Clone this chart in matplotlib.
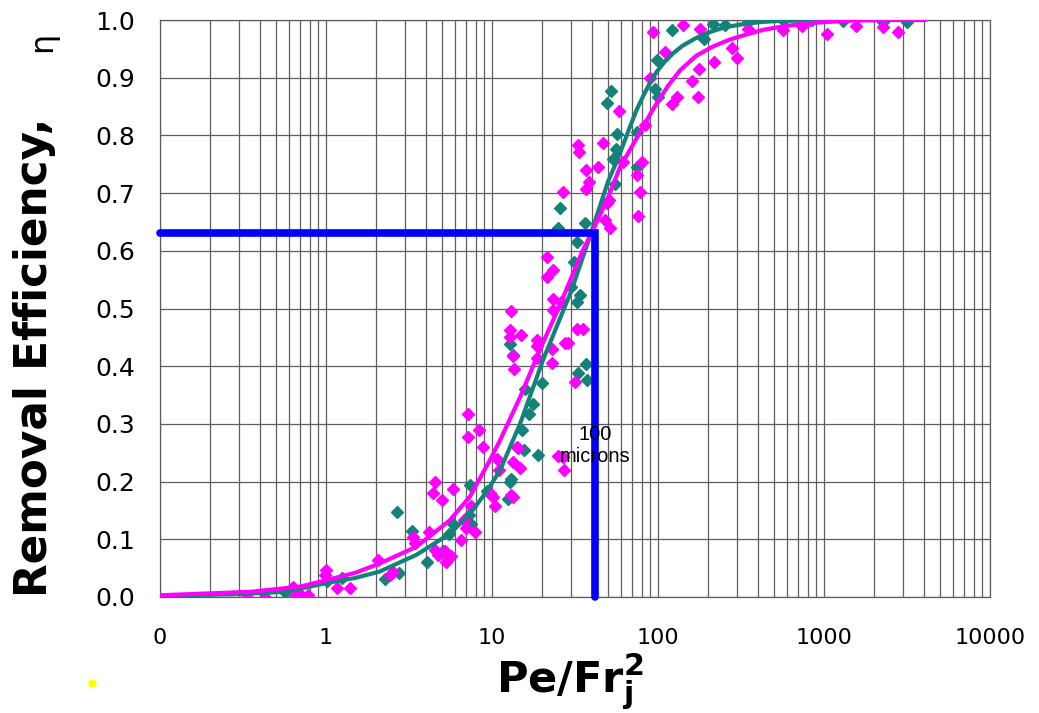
import matplotlib
matplotlib.use("Agg")
import matplotlib.pyplot as plt
from matplotlib.lines import Line2D
from matplotlib.ticker import FixedLocator, LogLocator, NullFormatter

# ---------------- data ----------------
teal_pts_x = [0.57, 1.01, 1.24, 2.27, 2.74, 2.67, 3.28, 4.05, 5.1, 5.5, 5.85, 7.3, 7.36, 7.5, 9.3,
              12.5, 12.8, 13.1, 12.9, 13.4, 15.2, 15.6, 15.8, 16.7, 17.7, 19.0, 19.9, 25.0, 25.7,
              29.9, 31.2, 32.7, 32.7, 33.1, 34.0, 36.3, 36.8, 37.3, 49.2, 52.1, 53.9, 55.0, 55.9,
              56.9, 74.3, 74.3, 96.5, 98, 100.5, 122, 190, 214, 254, 350, 563, 843, 1306, 2276, 3148]
teal_pts_y = [0.009, 0.027, 0.033, 0.031, 0.042, 0.148, 0.115, 0.061, 0.079, 0.11, 0.127, 0.142,
              0.194, 0.127, 0.183, 0.169, 0.2, 0.205, 0.438, 0.419, 0.29, 0.254, 0.36, 0.317, 0.334,
              0.246, 0.371, 0.639, 0.674, 0.538, 0.581, 0.512, 0.616, 0.388, 0.523, 0.649, 0.403,
              0.376, 0.857, 0.877, 0.759, 0.715, 0.776, 0.802, 0.746, 0.806, 0.88, 0.93, 0.866,
              0.983, 0.967, 0.993, 0.991, 0.997, 1.0, 1.0, 0.999, 0.997, 0.997]

mag_pts_x = [0.333, 0.43, 0.635, 0.66, 0.71, 0.78, 0.99, 1.0, 1.16, 1.39, 2.05, 2.43, 2.54, 3.36,
             3.45, 4.2, 4.44, 4.54, 4.54, 4.7, 5.0, 5.2, 5.3, 5.7, 5.85, 6.5, 6.8, 7.0, 7.2, 7.2,
             7.5, 7.9, 8.3, 8.8, 9.7, 10.2, 10.4, 10.7, 11.0, 12.9, 12.9, 13.1, 13.1, 13.4, 13.4,
             13.4, 13.6, 14.1, 14.4, 14.7, 14.9, 18.6, 18.7, 18.6, 21.5, 21.5, 22.9, 22.9, 23.2,
             23.3, 23.3, 25.0, 26.2, 26.6, 26.6, 27.1, 27.4, 28.7, 31.8, 32.3, 33.1, 33.5, 35.2,
             36.8, 36.8, 38.4, 43.4, 46.4, 47.7, 49.2, 51, 51.5, 58.3, 61.9, 74.8, 76, 77.6, 79.6,
             83.2, 89, 93.7, 110, 122, 130, 142, 161, 174, 176, 178, 217, 281, 300, 350, 563, 734,
             818, 1037, 1560, 2276, 2806]
mag_pts_y = [0.0, 0.0, 0.018, 0.003, 0.003, 0.003, 0.038, 0.047, 0.015, 0.015, 0.064, 0.038, 0.044,
             0.104, 0.094, 0.113, 0.18, 0.2, 0.081, 0.073, 0.168, 0.079, 0.061, 0.071, 0.188, 0.099,
             0.133, 0.119, 0.318, 0.278, 0.157, 0.113, 0.289, 0.26, 0.18, 0.174, 0.157, 0.24, 0.22,
             0.462, 0.451, 0.496, 0.177, 0.234, 0.174, 0.418, 0.396, 0.26, 0.259, 0.223, 0.454,
             0.445, 0.435, 0.415, 0.59, 0.554, 0.429, 0.405, 0.497, 0.567, 0.516, 0.244, 0.512,
             0.243, 0.702, 0.22, 0.44, 0.44, 0.373, 0.464, 0.783, 0.772, 0.464, 0.74, 0.707, 0.72,
             0.746, 0.786, 0.653, 0.682, 0.688, 0.639, 0.842, 0.754, 0.731, 0.66, 0.702, 0.754,
             0.818, 0.899, 0.979, 0.944, 0.854, 0.867, 0.991, 0.895, 0.867, 0.915, 0.984, 0.927,
             0.951, 0.935, 0.984, 0.983, 0.99, 1.0, 0.975, 0.99, 0.988, 0.979]

teal_curve_x = [0.1, 0.3, 0.57, 1.0, 1.5, 2.1, 3.5, 5.6, 7.4, 9.3, 11.2, 14.8, 20.3, 30, 38.9, 50,
                57, 67.6, 74.3, 82, 89, 98, 110, 123, 140, 165, 200, 250, 312, 400, 500, 700, 1000,
                2000, 4000]
teal_curve_y = [0.002, 0.005, 0.009, 0.024, 0.033, 0.044, 0.073, 0.11, 0.145, 0.183, 0.22, 0.301,
                0.411, 0.53, 0.625, 0.72, 0.758, 0.814, 0.844, 0.87, 0.89, 0.91, 0.928, 0.942,
                0.955, 0.967, 0.978, 0.987, 0.992, 0.996, 0.998, 0.999, 1.0, 1.0, 1.0]

mag_curve_x = [0.1, 0.35, 0.7, 1.0, 1.5, 2.1, 3.5, 5.57, 7.36, 9.7, 11.2, 14.8, 19.4, 26, 35.1,
               38.9, 50, 59, 74, 89, 98, 115, 136, 170, 214, 270, 342, 430, 543, 680, 859, 1100,
               1503, 2500, 4100]
mag_curve_y = [0.003, 0.009, 0.018, 0.029, 0.042, 0.058, 0.087, 0.133, 0.174, 0.237, 0.272, 0.347,
               0.428, 0.51, 0.60, 0.625, 0.692, 0.745, 0.794, 0.835, 0.855, 0.886, 0.913, 0.938,
               0.954, 0.966, 0.975, 0.983, 0.988, 0.992, 0.995, 0.997, 0.999, 1.0, 1.0]

blue_x = [0.1, 42, 42]
blue_y = [0.63, 0.63, 0.0]

xtick_vals = [0.1, 1, 10, 100, 1000, 10000]
xtick_labels = ["0", "1", "10", "100", "1000", "10000"]
ytick_vals = [0.0, 0.1, 0.2, 0.3, 0.4, 0.5, 0.6, 0.7, 0.8, 0.9, 1.0]
ytick_labels = ["0.0", "0.1", "0.2", "0.3", "0.4", "0.5", "0.6", "0.7", "0.8", "0.9", "1.0"]

# ---------------- figure ----------------
W, H = 1039, 713
fig = plt.figure(figsize=(W / 100, H / 100), dpi=100)
ax = fig.add_axes([160 / W, 1 - 597 / H, 830 / W, 577 / H])

TEAL = "#13827a"
MAG = "#ff00ff"
GRID = "#5e5e5e"

ax.set_xscale("log")
ax.set_xlim(0.1, 10000)
ax.set_ylim(0, 1)

ax.xaxis.set_major_locator(FixedLocator(xtick_vals))
ax.set_xticklabels(xtick_labels)
ax.xaxis.set_minor_locator(LogLocator(base=10, subs=range(2, 10), numticks=20))
ax.xaxis.set_minor_formatter(NullFormatter())
ax.set_yticks(ytick_vals)
ax.set_yticklabels(ytick_labels)

ax.grid(True, which="both", axis="x", color=GRID, lw=0.9)
ax.grid(True, which="major", axis="y", color=GRID, lw=0.9)
ax.set_axisbelow(True)
for s in ax.spines.values():
    s.set_color(GRID)
    s.set_linewidth(0.9)

ax.tick_params(which="both", length=0)
ax.tick_params(axis="x", pad=22, labelsize=16)
ax.tick_params(axis="y", pad=18, labelsize=18)
for lab in ax.get_xticklabels() + ax.get_yticklabels():
    lab.set_fontfamily("DejaVu Sans")

ax.plot(teal_pts_x, teal_pts_y, ls="none", marker="D", ms=6, color=TEAL, zorder=3)
ax.plot(mag_pts_x, mag_pts_y, ls="none", marker="D", ms=6, color=MAG, zorder=3)
ax.plot(teal_curve_x, teal_curve_y, color=TEAL, lw=3, zorder=4, solid_capstyle="round",
        solid_joinstyle="round")
ax.plot(mag_curve_x, mag_curve_y, color=MAG, lw=3, zorder=5, solid_capstyle="round",
        solid_joinstyle="round")

ax.plot(blue_x, blue_y, color="#0000ff", lw=5.5, zorder=6, solid_capstyle="round",
        solid_joinstyle="miter", clip_on=False)

ax.text(42, 0.262, "100\nmicrons", ha="center", va="center", fontsize=14.5,
        family="Liberation Sans", linespacing=1.2, zorder=7)

# axis labels
fig.text(35 / W, 1 - 597 / H, "Removal Efficiency,", rotation=90, rotation_mode="anchor",
         ha="left", va="center", fontsize=31.5, fontweight="bold", family="DejaVu Sans")
fig.text(43 / W, 1 - 42 / H, "η", rotation=90, ha="center", va="center", fontsize=23,
         family="DejaVu Sans")
fig.text(570 / W, 1 - 682 / H, r"$\mathbf{Pe/Fr_j^2}$", ha="center", va="center",
         fontsize=31)

# stray yellow dot
fig.add_artist(Line2D([92 / W], [1 - 683 / H], marker="o", ms=5, color="#ffff00",
                      transform=fig.transFigure, ls="none"))

fig.savefig("out.png", dpi=100)
